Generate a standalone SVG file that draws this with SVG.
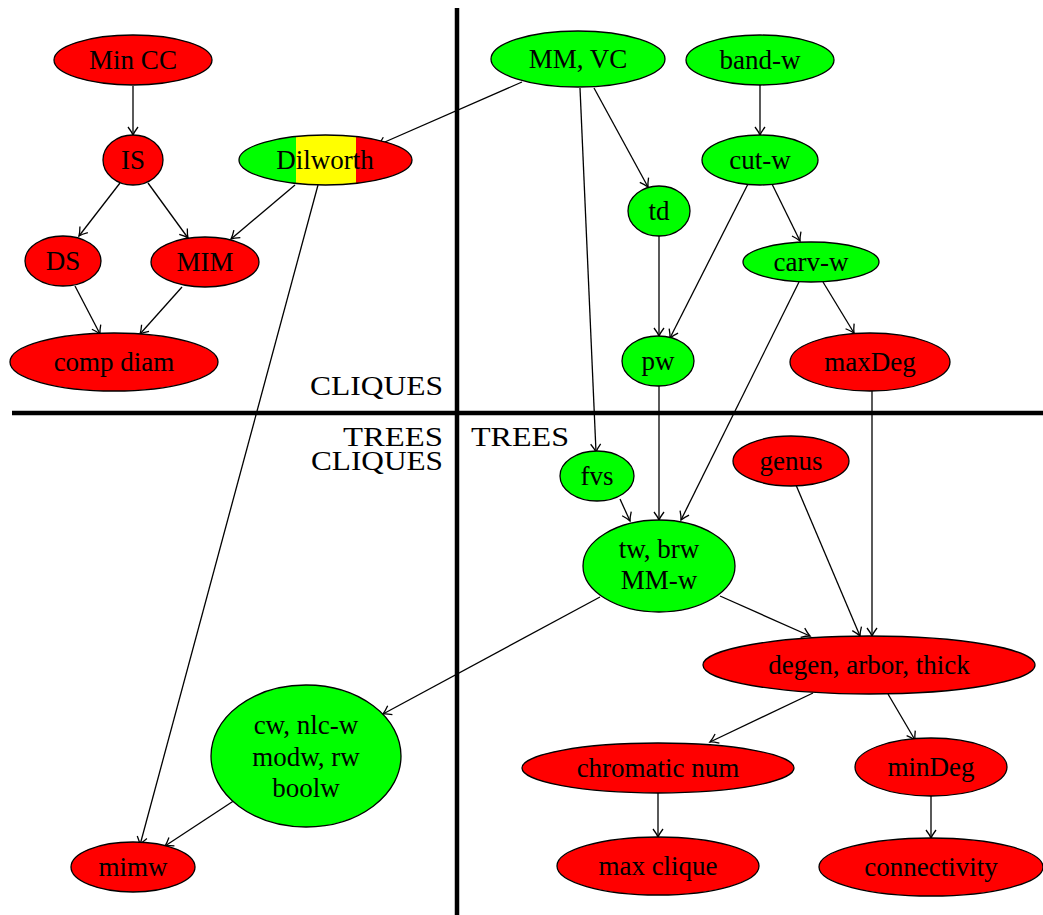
<svg xmlns="http://www.w3.org/2000/svg" width="1043" height="915" viewBox="0 0 1043 915">
<defs>
<style>
text{font-family:"Liberation Serif","Times New Roman",serif;font-size:27px;fill:#000;text-anchor:middle}
.lbl{text-anchor:end}
.lbl2{text-anchor:start}
ellipse{stroke:#000;stroke-width:1.3}
.r{fill:#ff0000}
.g{fill:#00ff00}
.e{fill:none;stroke:#000;stroke-width:1.3;marker-end:url(#arr)}
.sep{stroke:#000;stroke-width:4.5}
</style>
<marker id="arr" markerUnits="userSpaceOnUse" markerWidth="14" markerHeight="14" viewBox="-10 -7 12 14" refX="0" refY="0" orient="auto">
<path d="M-8,-5 Q-3,-1.2 0,0 Q-3,1.2 -8,5" fill="none" stroke="#000" stroke-width="1.3"/>
</marker>
<clipPath id="dilclip"><ellipse cx="325.5" cy="160" rx="86.5" ry="25"/></clipPath>
</defs>
<rect width="1043" height="915" fill="#fff"/>

<g id="separators">
<line class="sep" x1="457" y1="8" x2="457" y2="915"/>
<line class="sep" x1="12" y1="413" x2="1043" y2="413"/>
<text class="lbl" x="443" y="395" textLength="133" lengthAdjust="spacingAndGlyphs">CLIQUES</text>
<text class="lbl" x="443" y="446" textLength="100" lengthAdjust="spacingAndGlyphs">TREES</text>
<text class="lbl" x="443" y="470" textLength="132" lengthAdjust="spacingAndGlyphs">CLIQUES</text>
<text class="lbl2" x="471" y="446" textLength="98" lengthAdjust="spacingAndGlyphs">TREES</text>
</g>

<g id="connectors">
<line class="e" x1="133" y1="86" x2="133" y2="135"/>
<line class="e" x1="120" y1="183" x2="79" y2="236"/>
<line class="e" x1="148" y1="183" x2="188" y2="238"/>
<line class="e" x1="75" y1="286" x2="100" y2="334"/>
<line class="e" x1="182" y1="287" x2="140" y2="334"/>
<line class="e" x1="522" y1="82" x2="378" y2="145"/>
<line class="e" x1="295" y1="185" x2="231" y2="239"/>
<line class="e" x1="318" y1="185" x2="140" y2="845"/>
<line class="e" x1="580" y1="88" x2="596" y2="452"/>
<line class="e" x1="594" y1="88" x2="648" y2="187"/>
<line class="e" x1="760" y1="85" x2="760" y2="135"/>
<line class="e" x1="748" y1="184" x2="670" y2="338"/>
<line class="e" x1="772" y1="184" x2="800" y2="241"/>
<line class="e" x1="659" y1="236" x2="659" y2="336"/>
<line class="e" x1="823" y1="282" x2="854" y2="333"/>
<line class="e" x1="799" y1="282" x2="681" y2="520"/>
<line class="e" x1="659" y1="386" x2="659" y2="520"/>
<line class="e" x1="620" y1="499" x2="630" y2="521"/>
<line class="e" x1="872" y1="391" x2="872" y2="636"/>
<line class="e" x1="796" y1="485" x2="860" y2="636"/>
<line class="e" x1="720" y1="596" x2="810" y2="636"/>
<line class="e" x1="600" y1="597" x2="383" y2="714"/>
<line class="e" x1="235" y1="800" x2="165" y2="846"/>
<line class="e" x1="813" y1="693" x2="710" y2="742"/>
<line class="e" x1="888" y1="694" x2="915" y2="740"/>
<line class="e" x1="658" y1="793" x2="658" y2="837"/>
<line class="e" x1="931" y1="796" x2="931" y2="838"/>
</g>

<g id="n-mincc"><ellipse class="r" cx="133" cy="60" rx="79" ry="25"/><text x="133" y="69">Min CC</text></g>
<g id="n-is"><ellipse class="r" cx="133" cy="160" rx="30" ry="25"/><text x="133" y="169">IS</text></g>
<g id="n-ds"><ellipse class="r" cx="63" cy="261" rx="38" ry="25"/><text x="63" y="270">DS</text></g>
<g id="n-mim"><ellipse class="r" cx="205" cy="262" rx="54" ry="25"/><text x="205" y="271">MIM</text></g>
<g id="n-compdiam"><ellipse class="r" cx="114" cy="362" rx="104" ry="29"/><text x="114" y="371">comp diam</text></g>
<g id="n-dilworth">
<g clip-path="url(#dilclip)">
<rect x="238" y="134" width="58" height="52" fill="#00ff00"/>
<rect x="296" y="134" width="60" height="52" fill="#ffff00"/>
<rect x="356" y="134" width="58" height="52" fill="#ff0000"/>
</g>
<ellipse cx="325.5" cy="160" rx="86.5" ry="25" fill="none"/>
<text x="325" y="169">Dilworth</text>
</g>
<g id="n-mmvc"><ellipse class="g" cx="578" cy="59" rx="87" ry="28"/><text x="578" y="68">MM, VC</text></g>
<g id="n-bandw"><ellipse class="g" cx="760" cy="60" rx="74" ry="25"/><text x="760" y="69">band-w</text></g>
<g id="n-cutw"><ellipse class="g" cx="760" cy="160" rx="58" ry="25"/><text x="760" y="169">cut-w</text></g>
<g id="n-td"><ellipse class="g" cx="659" cy="211" rx="31" ry="25"/><text x="659" y="220">td</text></g>
<g id="n-carvw"><ellipse class="g" cx="811" cy="262" rx="68" ry="20"/><text x="811" y="271">carv-w</text></g>
<g id="n-pw"><ellipse class="g" cx="658" cy="361" rx="36" ry="25"/><text x="658" y="370">pw</text></g>
<g id="n-maxdeg"><ellipse class="r" cx="870" cy="362" rx="80" ry="29"/><text x="870" y="371">maxDeg</text></g>
<g id="n-fvs"><ellipse class="g" cx="597" cy="476" rx="37" ry="25"/><text x="597" y="485">fvs</text></g>
<g id="n-genus"><ellipse class="r" cx="791" cy="461" rx="58" ry="25"/><text x="791" y="470">genus</text></g>
<g id="n-tw"><ellipse class="g" cx="659" cy="566" rx="76" ry="46"/><text x="659" y="558">tw, brw</text><text x="659" y="589">MM-w</text></g>
<g id="n-degen"><ellipse class="r" cx="869" cy="665" rx="166" ry="29"/><text x="869" y="674">degen, arbor, thick</text></g>
<g id="n-cw"><ellipse class="g" cx="306" cy="756" rx="95" ry="71"/><text x="306" y="734">cw, nlc-w</text><text x="306" y="766">modw, rw</text><text x="306" y="797">boolw</text></g>
<g id="n-chromatic"><ellipse class="r" cx="658" cy="768" rx="136" ry="25"/><text x="658" y="777">chromatic num</text></g>
<g id="n-mindeg"><ellipse class="r" cx="931" cy="767" rx="76" ry="29"/><text x="931" y="776">minDeg</text></g>
<g id="n-maxclique"><ellipse class="r" cx="658" cy="866" rx="101" ry="29"/><text x="658" y="875">max clique</text></g>
<g id="n-connectivity"><ellipse class="r" cx="931" cy="867" rx="112" ry="29"/><text x="931" y="876">connectivity</text></g>
<g id="n-mimw"><ellipse class="r" cx="133" cy="867" rx="62" ry="25"/><text x="133" y="876">mimw</text></g>
</svg>
